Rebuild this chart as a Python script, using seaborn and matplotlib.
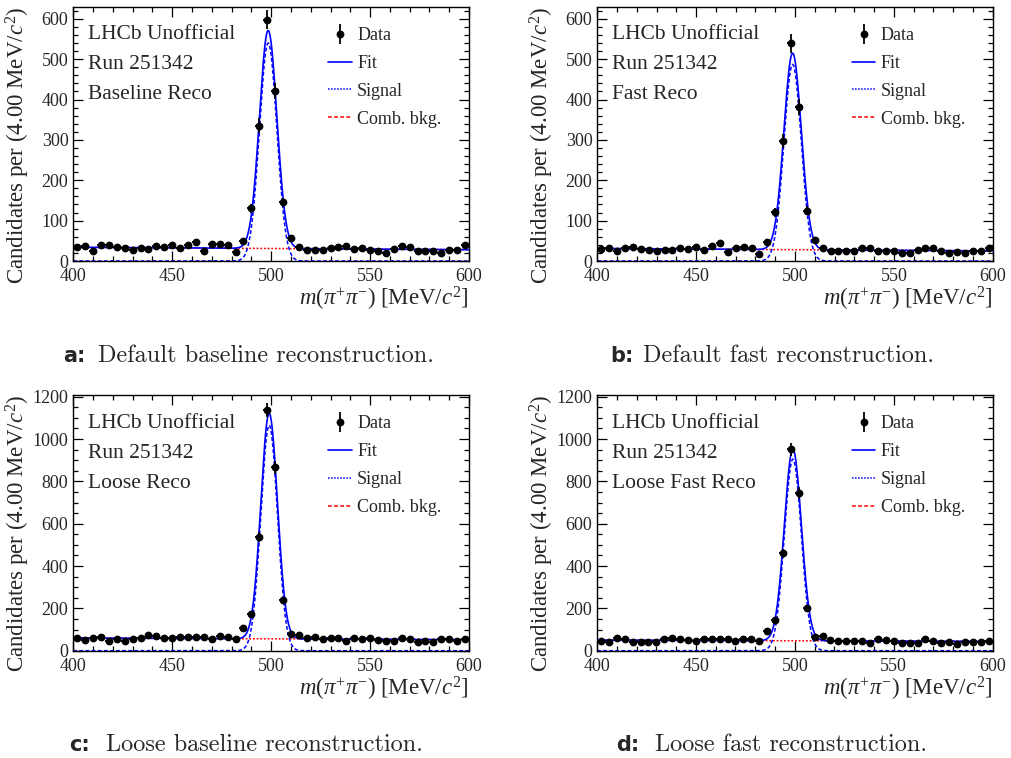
import numpy as np
import pandas as pd
import matplotlib
matplotlib.use("Agg")
import matplotlib.pyplot as plt
import seaborn as sns
from matplotlib.lines import Line2D
from matplotlib.legend_handler import HandlerTuple
from matplotlib.ticker import MultipleLocator

# ---- histogram content: 50 bins of 4 MeV/c^2 between 400 and 600 ----
bin_edges_lo = 400.0
bin_width = 4.0
n_bins = 50

counts_baseline = [35, 38, 26, 40, 40, 34, 33, 28, 33, 30, 38, 35, 39, 31, 40, 47, 26, 41, 41, 40,
                   22, 50, 131, 335, 598, 421, 145, 58, 35, 28, 27, 27, 33, 35, 38, 29, 31, 27, 25, 21,
                   29, 38, 35, 26, 26, 26, 21, 27, 27, 39]
counts_fast = [30, 32, 26, 31, 34, 30, 28, 26, 27, 28, 33, 30, 34, 28, 36, 45, 22, 33, 35, 32,
               17, 46, 121, 297, 539, 381, 125, 51, 31, 25, 26, 25, 26, 31, 31, 24, 25, 24, 21, 20,
               27, 31, 31, 25, 21, 22, 20, 24, 25, 31]
counts_loose = [60, 51, 60, 67, 47, 54, 48, 57, 62, 73, 70, 62, 60, 65, 67, 65, 67, 54, 70, 65,
                54, 107, 175, 539, 1137, 866, 240, 81, 76, 60, 67, 56, 60, 60, 47, 62, 57, 60, 51, 45,
                47, 60, 57, 43, 45, 42, 54, 54, 45, 57]
counts_loose_fast = [47, 43, 59, 57, 40, 40, 40, 42, 56, 59, 56, 51, 48, 56, 57, 56, 54, 45, 57, 56,
                     45, 91, 144, 460, 951, 746, 203, 67, 70, 50, 45, 45, 48, 48, 37, 54, 50, 48, 36, 36,
                     36, 54, 48, 36, 42, 34, 40, 42, 39, 47]

# ---- fitted model parameters (Gaussian signal + linear combinatorial background) ----
fit_mean = [498.5, 498.8, 499.0, 499.0]
fit_sigma = [4.4, 4.4, 4.2, 4.3]
fit_signal_peak = [540, 487, 1065, 905]
bkg_at_400 = [34, 31, 60, 50]
bkg_at_600 = [28, 25, 52, 44]

panel_counts = [counts_baseline, counts_fast, counts_loose, counts_loose_fast]
panel_tags = ["Baseline Reco", "Fast Reco", "Loose Reco", "Loose Fast Reco"]
panel_letters = ["a:", "b:", "c:", "d:"]
panel_captions = ["Default baseline reconstruction.", "Default fast reconstruction.",
                  "Loose baseline reconstruction.", "Loose fast reconstruction."]
y_upper = [630, 630, 1208, 1208]
y_major = [100, 100, 200, 200]
y_minor = [20, 20, 50, 50]

legend_labels = ["Data", "Fit", "Signal", "Comb. bkg."]
header_lines = ["LHCb Unofficial", "Run 251342"]

sns.set_theme(style="ticks")
plt.rcParams["font.family"] = ["Liberation Serif", "DejaVu Serif"]
plt.rcParams["mathtext.fontset"] = "custom"
plt.rcParams["mathtext.rm"] = "Liberation Serif"
plt.rcParams["mathtext.it"] = "Liberation Serif:italic"
plt.rcParams["mathtext.bf"] = "Liberation Serif:bold"

W, H = 1011, 758
fig = plt.figure(figsize=(W / 100, H / 100), dpi=100)

# axes boxes in pixels: left, top, right, bottom
boxes = [(73.3, 6.7, 469.0, 261.0), (597.3, 6.7, 992.7, 261.0),
         (73.3, 395.0, 469.0, 650.7), (597.0, 395.0, 992.7, 650.7)]

mass_centres = bin_edges_lo + bin_width * (np.arange(n_bins) + 0.5)
mass_grid = np.linspace(400, 600, 1001)

for i in range(4):
    l, t, r, b = boxes[i]
    ax = fig.add_axes([l / W, 1 - b / H, (r - l) / W, (b - t) / H])

    counts = np.asarray(panel_counts[i], dtype=float)
    data = pd.DataFrame({"mass": mass_centres, "count": counts})

    signal = fit_signal_peak[i] * np.exp(-0.5 * ((mass_grid - fit_mean[i]) / fit_sigma[i]) ** 2)
    bkg = bkg_at_400[i] + (bkg_at_600[i] - bkg_at_400[i]) * (mass_grid - 400) / 200
    curves = pd.DataFrame({"mass": mass_grid, "signal": signal, "bkg": bkg, "total": signal + bkg})

    sns.lineplot(data=curves, x="mass", y="bkg", ax=ax, color="#ff0000",
                 linestyle=(0, (1.2, 1.2)), linewidth=1.1, zorder=1)
    sns.lineplot(data=curves, x="mass", y="signal", ax=ax, color="#0000ff",
                 linestyle=(0, (2.5, 1.5)), linewidth=1.1, zorder=2)
    sns.lineplot(data=curves, x="mass", y="total", ax=ax, color="#0000ff",
                 linestyle="-", linewidth=1.2, zorder=3)
    ax.errorbar(data["mass"], data["count"], xerr=bin_width / 2, yerr=np.sqrt(data["count"]),
                fmt="o", ms=4.6, color="black", ecolor="black", elinewidth=1.3,
                capsize=0, zorder=4)

    ax.set_xlim(400, 600)
    ax.set_ylim(0, y_upper[i])
    ax.xaxis.set_major_locator(MultipleLocator(50))
    ax.xaxis.set_minor_locator(MultipleLocator(10))
    ax.yaxis.set_major_locator(MultipleLocator(y_major[i]))
    ax.yaxis.set_minor_locator(MultipleLocator(y_minor[i]))
    ax.tick_params(which="both", direction="in", top=True, right=True,
                   color="black", width=0.9)
    ax.tick_params(which="major", length=7, labelsize=13, pad=5)
    ax.tick_params(axis="y", which="major", pad=3.5)
    ax.tick_params(which="minor", length=3.5)
    for s in ax.spines.values():
        s.set_linewidth(1.0)
        s.set_color("black")
    ax.grid(False)

    ax.set_xlabel(r"$m$($\pi^{+}\pi^{-}$) [MeV/$c^{2}$]", fontsize=16.5, loc="right")
    ax.xaxis.set_label_coords(1.0, -0.095)
    ax.set_ylabel(r"Candidates per (4.00 MeV/$c^{2}$)", fontsize=16.5, loc="top")
    ax.yaxis.set_label_coords(-0.104, 1.0)

    lines = header_lines + [panel_tags[i]]
    for k, txt in enumerate(lines):
        ax.text(0.037, 0.889 - 0.118 * k, txt, transform=ax.transAxes,
                fontsize=15.5, va="center", ha="left")

    h_data = (Line2D([], [], ls="", marker="|", ms=15, mew=1.3, color="black"),
              Line2D([], [], ls="", marker="o", ms=4.6, color="black"))
    h_fit = Line2D([], [], color="#0000ff", lw=1.2)
    h_sig = Line2D([], [], color="#0000ff", lw=1.1, linestyle=(0, (1, 1)))
    h_bkg = Line2D([], [], color="#ff0000", lw=1.1, linestyle=(0, (2.5, 1.5)))
    ax.legend([h_data, h_fit, h_sig, h_bkg], legend_labels,
              handler_map={tuple: HandlerTuple(ndivide=1)},
              loc="upper left", bbox_to_anchor=(0.644, 0.92), frameon=False,
              fontsize=13, handlelength=1.3, handletextpad=0.3, labelspacing=0.6,
              borderpad=0, borderaxespad=0)

# sub-figure captions
caption_rows = [(63, 98, 362), (610, 643, 362), (69, 106, 751), (616, 655, 751)]
for i, (xl, xt, yb) in enumerate(caption_rows):
    fig.text(xl / W, 1 - yb / H, panel_letters[i], family="DejaVu Sans",
             weight="bold", fontsize=15, va="baseline", ha="left")
    fig.text(xt / W, 1 - yb / H, panel_captions[i], family="cmr10",
             fontsize=17.5, va="baseline", ha="left")

fig.savefig("out.png", dpi=100)
